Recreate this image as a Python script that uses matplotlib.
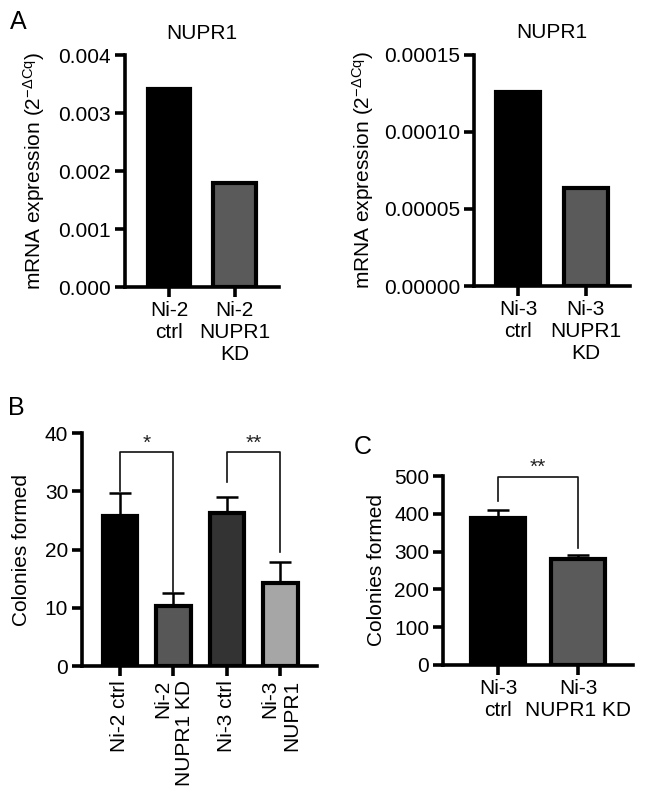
import matplotlib
matplotlib.use('Agg')
import matplotlib.pyplot as plt

plt.rcParams['font.family'] = ['Liberation Sans', 'DejaVu Sans']
plt.rcParams['mathtext.fontset'] = 'custom'
plt.rcParams['mathtext.rm'] = 'Liberation Sans'
plt.rcParams['mathtext.it'] = 'Liberation Sans'

# panel A data
a_left_labels = ['Ni-2\nctrl', 'Ni-2\nNUPR1\nKD']
a_left_vals = [0.00341, 0.00180]
a_right_labels = ['Ni-3\nctrl', 'Ni-3\nNUPR1\nKD']
a_right_vals = [0.000126, 0.0000636]
a_colors = ['#000000', '#5a5a5a']

# panel B data
b_labels = ['Ni-2 ctrl', 'Ni-2\nNUPR1 KD', 'Ni-3 ctrl', 'Ni-3\nNUPR1']
b_means = [25.7, 10.3, 26.3, 14.3]
b_err = [4.0, 2.3, 2.8, 3.6]
b_colors = ['#000000', '#575757', '#333333', '#a6a6a6']
b_pairs = [(0, 1), (2, 3)]
b_stars = ['*', '**']
b_bracket_top = [36.7, 36.7]
b_bracket_legs = [(30.0, 12.7), (31.6, 19.6)]

# panel C data
c_labels = ['Ni-3\nctrl', 'Ni-3\nNUPR1 KD']
c_means = [388, 280]
c_err = [22, 12]
c_colors = ['#000000', '#5a5a5a']
c_bracket_top = 498
c_bracket_legs = (435, 310)

ylab_mrna = r'mRNA expression (2$^{\mathregular{−ΔCq}}$)'
FS = 15
SPINE = 2.6

fig = plt.figure(figsize=(6.46, 8), dpi=100)


def style(ax):
    for s in ['top', 'right']:
        ax.spines[s].set_visible(False)
    for s in ['left', 'bottom']:
        ax.spines[s].set_linewidth(SPINE)
    ax.tick_params(axis='both', width=SPINE, length=7, labelsize=FS, pad=3)


def bar_panel(ax, vals, colors, err=None, width=0.65):
    x = list(range(len(vals)))
    ax.bar(x, vals, width=width, color=colors, edgecolor='black', linewidth=3.0, zorder=2)
    if err is not None:
        ax.errorbar(x, vals, yerr=[[0] * len(vals), err], fmt='none', ecolor='black',
                    elinewidth=1.8, capsize=8, capthick=1.8, zorder=1)
    return x


def bracket(ax, x1, x2, top, legs, text, fs=15):
    ax.plot([x1, x1, x2, x2], [legs[0], top, top, legs[1]], color='#111111', lw=1.2, zorder=3)
    ax.text((x1 + x2) / 2, top, text, ha='center', va='bottom', fontsize=fs, color='#222222')


# A left
ax1 = fig.add_axes([0.1935, 0.641, 0.238, 0.29])
x = bar_panel(ax1, a_left_vals, a_colors)
ax1.set_xlim(-0.667, 1.667)
ax1.set_ylim(0, 0.004)
ax1.set_yticks([0, 0.001, 0.002, 0.003, 0.004])
ax1.set_yticklabels(['0.000', '0.001', '0.002', '0.003', '0.004'])
ax1.set_xticks(x)
ax1.set_xticklabels(a_left_labels)
ax1.set_ylabel(ylab_mrna, fontsize=FS, labelpad=8)
ax1.set_title('NUPR1', fontsize=FS, pad=12)
style(ax1)

# A right
ax2 = fig.add_axes([0.734, 0.6425, 0.241, 0.289])
x = bar_panel(ax2, a_right_vals, a_colors)
ax2.set_xlim(-0.647, 1.65)
ax2.set_ylim(0, 0.00015)
ax2.set_yticks([0, 0.00005, 0.0001, 0.00015])
ax2.set_yticklabels(['0.00000', '0.00005', '0.00010', '0.00015'])
ax2.set_xticks(x)
ax2.set_xticklabels(a_right_labels)
ax2.set_ylabel(ylab_mrna, fontsize=FS, labelpad=6)
ax2.set_title('NUPR1', fontsize=FS, pad=12)
style(ax2)

# B
ax3 = fig.add_axes([0.127, 0.1675, 0.364, 0.291])
x = bar_panel(ax3, b_means, b_colors, b_err)
ax3.set_xlim(-0.71, 3.69)
ax3.set_ylim(0, 40)
ax3.set_yticks([0, 10, 20, 30, 40])
ax3.set_xticks(x)
ax3.set_xticklabels(b_labels, rotation=90, ha='center', va='top', multialignment='right')
ax3.set_ylabel('Colonies formed', fontsize=FS, labelpad=10)
style(ax3)
for (i, j), s, t, lg in zip(b_pairs, b_stars, b_bracket_top, b_bracket_legs):
    bracket(ax3, i, j, t, lg, s)

# C
ax4 = fig.add_axes([0.686, 0.169, 0.294, 0.236])
x = bar_panel(ax4, c_means, c_colors, c_err, width=0.67)
ax4.set_xlim(-0.69, 1.69)
ax4.set_ylim(0, 500)
ax4.set_yticks([0, 100, 200, 300, 400, 500])
ax4.set_xticks(x)
ax4.set_xticklabels(c_labels)
ax4.set_ylabel('Colonies formed', fontsize=FS, labelpad=6)
style(ax4)
bracket(ax4, 0, 1, c_bracket_top, c_bracket_legs, '**')

# panel letters
fig.text(0.028, 0.972, 'A', fontsize=18, ha='center', va='center')
fig.text(0.025, 0.49, 'B', fontsize=18, ha='center', va='center')
fig.text(0.562, 0.441, 'C', fontsize=18, ha='center', va='center')

fig.savefig('out.png', dpi=100)
